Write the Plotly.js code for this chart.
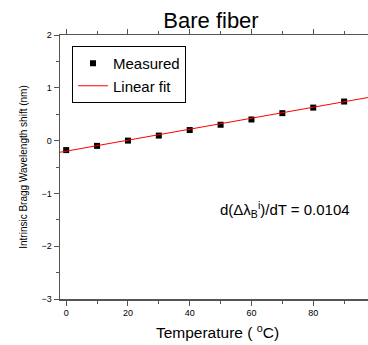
<!DOCTYPE html>
<html><head><meta charset="utf-8">
<script src="https://cdn.plot.ly/plotly-3.0.1.min.js"></script>
<style>html,body{margin:0;padding:0;overflow:hidden;background:#fff}</style>
</head><body><div id="chart"></div>
<script>
const temperature = [0, 10, 20, 30, 40, 50, 60, 70, 80, 90];
const measuredShift = [-0.18, -0.10, 0.0, 0.095, 0.20, 0.30, 0.40, 0.52, 0.625, 0.74];
const fitSlope = 0.0104;
const fitIntercept = -0.20;
const xRange = [-2, 100];
const fitX = xRange.slice();
const fitY = fitX.map(x => fitIntercept + fitSlope * x);

const W = 385, H = 345;
const axisColor = '#555';
const data = [
  {x: temperature, y: measuredShift, mode: 'markers', type: 'scatter', name: 'Measured',
   marker: {symbol: 'square', size: 6, color: '#000'}},
  {x: fitX, y: fitY, mode: 'lines', type: 'scatter', name: 'Linear fit',
   line: {color: '#ff0000', width: 1}}
];
const layout = {
  width: W, height: H,
  margin: {l: 60, r: W - 375, t: 35, b: 46},
  paper_bgcolor: '#fff', plot_bgcolor: '#fff',
  font: {family: 'Arial, Liberation Sans, sans-serif', color: '#000'},
  title: {text: 'Bare fiber', font: {size: 22, color: '#000'}, xref: 'container', x: 211 / W,
          xanchor: 'center', yref: 'container', y: 1 - 20 / H, yanchor: 'middle'},
  showlegend: true,
  legend: {x: (72 - 60) / 315, y: (299 - 46) / 264, xanchor: 'left', yanchor: 'top', bordercolor: '#000', borderwidth: 1,
           bgcolor: '#fff', font: {size: 15}, tracegroupgap: 0},
  xaxis: {range: xRange, showgrid: false, zeroline: false, showline: true, mirror: 'ticks', linecolor: axisColor, linewidth: 1.5,
          ticks: 'outside', ticklen: 5, tickwidth: 1, tickcolor: axisColor, dtick: 20, tick0: 0,
          minor: {ticks: 'outside', ticklen: 3, dtick: 10, tick0: 0, tickcolor: axisColor},
          tickfont: {size: 9}, title: {text: 'Temperature ( <sup>o</sup>C)', font: {size: 15.5}, standoff: 10}},
  yaxis: {range: [-3, 2], showgrid: false, zeroline: false, showline: true, mirror: true, linecolor: axisColor, linewidth: 1.5,
          ticks: 'outside', ticklen: 5, tickwidth: 1, tickcolor: axisColor, dtick: 1, tick0: 0,
          minor: {ticks: 'outside', ticklen: 3, dtick: 0.5, tick0: 0, tickcolor: axisColor},
          tickfont: {size: 9}, title: {text: 'Intrinsic Bragg Wavelength shift (nm)', font: {size: 10}, standoff: 12}},
  annotations: [{x: 70.7, y: -1.31, xref: 'x', yref: 'y', showarrow: false, xanchor: 'center', yanchor: 'middle',
                 text: 'd(Δλ<sub>B</sub><sup>i</sup>)/dT = 0.0104', font: {size: 15}}]
};
Plotly.newPlot('chart', data, layout, {displayModeBar: false, staticPlot: true});
</script></body></html>
